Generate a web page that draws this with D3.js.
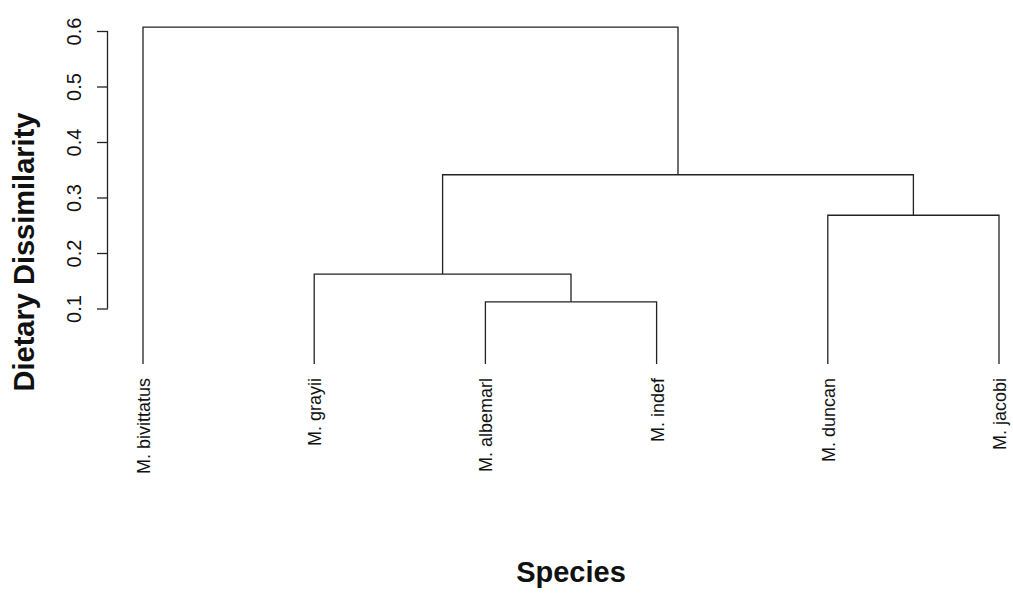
<!DOCTYPE html>
<html>
<head>
<meta charset="utf-8">
<script src="https://cdn.jsdelivr.net/npm/d3@7"></script>
<style>
  body { margin: 0; background: #fff; }
  text { font-family: "Liberation Sans", Arial, sans-serif; }
</style>
</head>
<body>
<svg id="chart" width="1013" height="593"></svg>
<script>
// leaves, in plotted order
const species = ["M. bivittatus", "M. grayii", "M. albemarl", "M. indef", "M. duncan", "M. jacobi"];
// merges like hclust: negative = leaf index (1-based), positive = earlier merge
const merges = [[-3, -4], [-2, 1], [-5, -6], [2, 3], [-1, 4]];
const heights = [0.112, 0.162, 0.268, 0.341, 0.607];
const yTicks = [0.1, 0.2, 0.3, 0.4, 0.5, 0.6];

const svg = d3.select("#chart");

const x = d3.scalePoint().domain(species).range([143, 999]);
const y = d3.scaleLinear().domain([0, 0.6]).range([364, 31]);

// node positions
const pos = function(ref, done){
  if (ref < 0) return {x: x(species[-ref - 1]), h: 0};
  return done[ref - 1];
};
const done = [];
const g = svg.append("g")
  .attr("fill", "none")
  .attr("stroke", "#222")
  .attr("stroke-width", 1.3);

merges.forEach(function(m, i){
  const a = pos(m[0], done), b = pos(m[1], done), h = heights[i];
  g.append("path")
    .attr("d", `M${a.x},${y(a.h)}V${y(h)}H${b.x}V${y(b.h)}`);
  done.push({x: (a.x + b.x) / 2, h: h});
});

// y axis
const yAxis = svg.append("g")
  .attr("transform", "translate(108,0)")
  .call(d3.axisLeft(y).tickValues(yTicks).tickSize(11).tickFormat(d3.format(".1f")));
yAxis.select(".domain").attr("d", `M-0.5,${y(0.1)}V${y(0.6)}`).attr("stroke", "#222").attr("stroke-width", 1.3);
yAxis.selectAll(".tick line").attr("stroke", "#222").attr("stroke-width", 1.3);
yAxis.selectAll(".tick text")
  .attr("x", null).attr("dy", null)
  .attr("transform", "translate(-27,0) rotate(-90)")
  .attr("text-anchor", "middle")
  .style("font-size", "20px")
  .style("font-family", "Liberation Sans, Arial, sans-serif")
  .attr("fill", "#111");

// leaf labels
svg.append("g").selectAll("text")
  .data(species)
  .join("text")
  .attr("transform", d => `translate(${x(d) + 7},378) rotate(-90)`)
  .attr("text-anchor", "end")
  .style("font-size", "18px")
  .attr("fill", "#111")
  .text(d => d);

// axis titles
svg.append("text")
  .attr("transform", "translate(34,252) rotate(-90)")
  .attr("text-anchor", "middle")
  .style("font-size", "29px")
  .style("font-weight", "bold")
  .attr("fill", "#111")
  .text("Dietary Dissimilarity");

svg.append("text")
  .attr("x", 571).attr("y", 582)
  .attr("text-anchor", "middle")
  .style("font-size", "29px")
  .style("font-weight", "bold")
  .attr("fill", "#111")
  .text("Species");
</script>
</body>
</html>
